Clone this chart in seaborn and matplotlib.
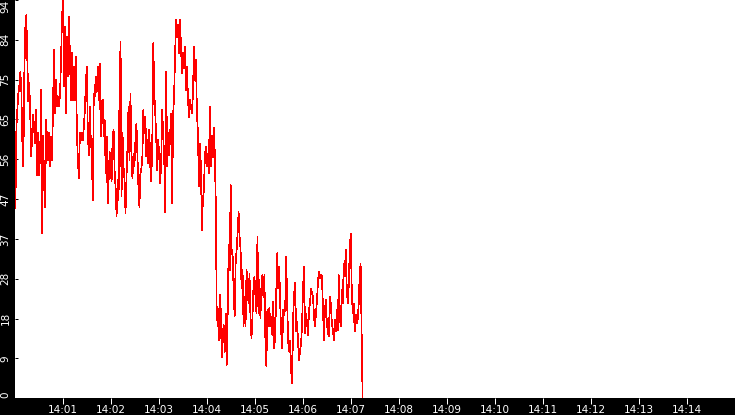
import numpy as np
import pandas as pd
import seaborn as sns
import matplotlib
matplotlib.use("Agg")
import matplotlib.pyplot as plt

vals_a = [44.9, 63.9, 68.6, 72.1, 74.1, 77.2, 72.5, 60.7, 54.8, 76.9,
          87.5, 90.6, 80.0, 70.2, 74.5, 66.6, 57.2, 63.5, 67.0, 63.1,
          60.3, 68.2, 52.8, 62.7, 52.8, 58.7, 72.9, 39.0, 62.0, 50.1,
          45.3, 65.8, 60.3, 56.4, 62.7, 54.8, 61.9, 56.4, 70.6, 82.4,
          67.4, 75.3, 69.0, 71.3, 69.0, 72.1, 80.0, 90.2, 94.2, 73.7,
          87.9, 67.4, 85.5, 76.1, 90.2, 80.0, 70.6, 81.6, 70.6, 78.4,
          70.6, 80.8, 62.7, 56.4, 52.0, 62.7, 61.1, 62.7, 61.1, 64.3,
          68.2, 74.5, 78.4, 62.7, 57.6, 69.0, 61.1, 57.9, 46.9, 72.1,
          71.3, 76.1, 72.5, 78.4, 70.6, 79.2, 61.9, 69.8, 70.6, 61.9,
          65.8, 53.2]
vals_b = [61.9, 46.1, 51.6, 58.3, 54.0, 51.3, 61.9, 63.5, 54.0, 49.7,
          43.0, 51.6, 46.9, 73.7, 84.3, 47.7, 62.7, 54.8, 51.6, 43.8,
          52.4, 59.5, 69.0, 56.4, 72.1, 56.4, 52.0, 57.9, 54.8, 61.1,
          65.0, 57.2, 50.1, 45.3, 53.2, 54.4, 57.2, 68.2, 62.7, 66.6,
          57.2, 61.1, 55.6, 63.5, 54.8, 51.3, 61.1, 84.0, 72.1, 67.4,
          61.1, 54.0, 61.1, 57.2, 50.8, 56.4, 68.2, 62.0, 57.2, 44.1,
          77.2, 54.8, 62.7, 57.6, 62.7, 67.4, 46.1, 67.0, 71.7, 81.6,
          89.4, 85.5, 88.3, 81.6, 89.4, 82.4, 76.9, 81.6, 78.0, 83.2,
          72.9, 78.4, 70.6, 66.6, 70.6, 69.0, 67.4, 72.1, 83.2, 75.3,
          80.0, 67.4, 62.7, 50.1, 60.3, 54.8, 39.8, 46.9, 49.3, 57.2,
          59.5, 54.8, 57.9, 53.2, 69.0, 54.8]
vals_c = [62.0, 57.1, 64.0, 57.9, 46.1, 18.5, 21.3, 13.8, 24.4, 20.9,
          9.8, 15.0, 17.3, 11.0, 20.1, 7.9, 20.1, 36.2, 30.3, 50.4,
          35.1, 33.5, 25.6, 19.3, 31.9, 35.1, 39.0, 44.1, 38.2, 35.1,
          26.0, 30.3, 17.0, 24.0, 17.0, 30.3, 27.2, 22.4, 29.5, 18.5,
          14.2, 19.3, 26.4, 28.8, 24.0, 20.1, 38.2, 20.1, 28.0, 18.9,
          26.4, 29.1, 24.0, 29.1, 13.8, 7.5, 20.9, 17.0, 21.3, 17.0,
          19.3, 15.0, 22.8, 11.8, 15.8, 25.6, 34.3, 26.0, 31.1, 21.7,
          15.4, 11.8, 20.9, 19.7, 21.7]
vals_d = [33.5, 22.0, 13.4, 11.0, 13.5, 6.3, 3.5, 19.3, 24.8, 27.2,
          15.8, 18.1, 13.0, 9.0, 11.4, 13.0, 17.7, 26.4, 31.1, 15.4,
          20.1, 17.7, 15.0, 20.9, 22.4, 26.0, 24.8, 24.0, 19.3, 17.0,
          20.1, 23.2, 27.6, 29.9, 28.4, 29.3, 28.8, 21.7, 13.8, 20.9,
          23.2, 17.7, 15.4, 14.6, 24.0, 22.4, 17.7, 16.2, 13.8, 18.5,
          15.8, 20.9, 16.2, 29.1, 19.3, 17.0, 25.6, 22.4, 31.9, 28.8,
          35.1, 26.4, 22.4, 26.4, 35.1, 39.0, 26.4, 20.1, 22.4, 15.8,
          19.7, 17.7, 18.5, 22.1, 28.8, 31.9, 15.8, 0.0]

day = "2024-01-01 "
start_time = "14:00:00.5"
x_range = ["14:00:00", "14:15:00"]
x_tick_labels = ["14:01", "14:02", "14:03", "14:04", "14:05", "14:06", "14:07",
                 "14:08", "14:09", "14:10", "14:11", "14:12", "14:13", "14:14"]
y_max = 94.2
y_tick_labels = ["0", "9", "18", "28", "37", "47", "56", "65", "75", "84", "94"]

values = vals_a + vals_b + vals_c + vals_d
df = pd.DataFrame({
    "time": pd.date_range(day + start_time, periods=len(values), freq="1240ms"),
    "value": values,
})

W, H = 735, 415
fig = plt.figure(figsize=(W / 100, H / 100), dpi=100, facecolor="black")
ax = fig.add_axes([15 / W, (H - 398.3) / H, 720 / W, 398.3 / H])
ax.set_facecolor("white")

sns.lineplot(data=df, x="time", y="value", ax=ax, color="#ff0000",
             linewidth=0.5, estimator=None, antialiased=False)

ax.set_xlim(pd.Timestamp(day + x_range[0]), pd.Timestamp(day + x_range[1]))
ax.set_ylim(0, y_max)
ax.set_xlabel("")
ax.set_ylabel("")

ax.set_xticks([pd.Timestamp(day + t) for t in x_tick_labels])
ax.set_xticklabels(x_tick_labels)
ax.set_yticks(np.linspace(0, y_max, len(y_tick_labels)))
ax.set_yticklabels(y_tick_labels, rotation=90, va="center")
ylabs = ax.get_yticklabels()
ylabs[0].set_va("bottom")   # keep end labels inside the figure
ylabs[-1].set_va("top")

for s in ax.spines.values():
    s.set_visible(False)

ax.tick_params(axis="x", direction="out", length=4.3, width=0.72, color="white",
               labelcolor="white", labelsize=7.5, pad=0.8)
ax.tick_params(axis="y", direction="in", length=2.5, width=0.72, color="black",
               labelcolor="white", labelsize=7.5, pad=3.2)

fig.savefig("out.png", dpi=100, facecolor="black")
